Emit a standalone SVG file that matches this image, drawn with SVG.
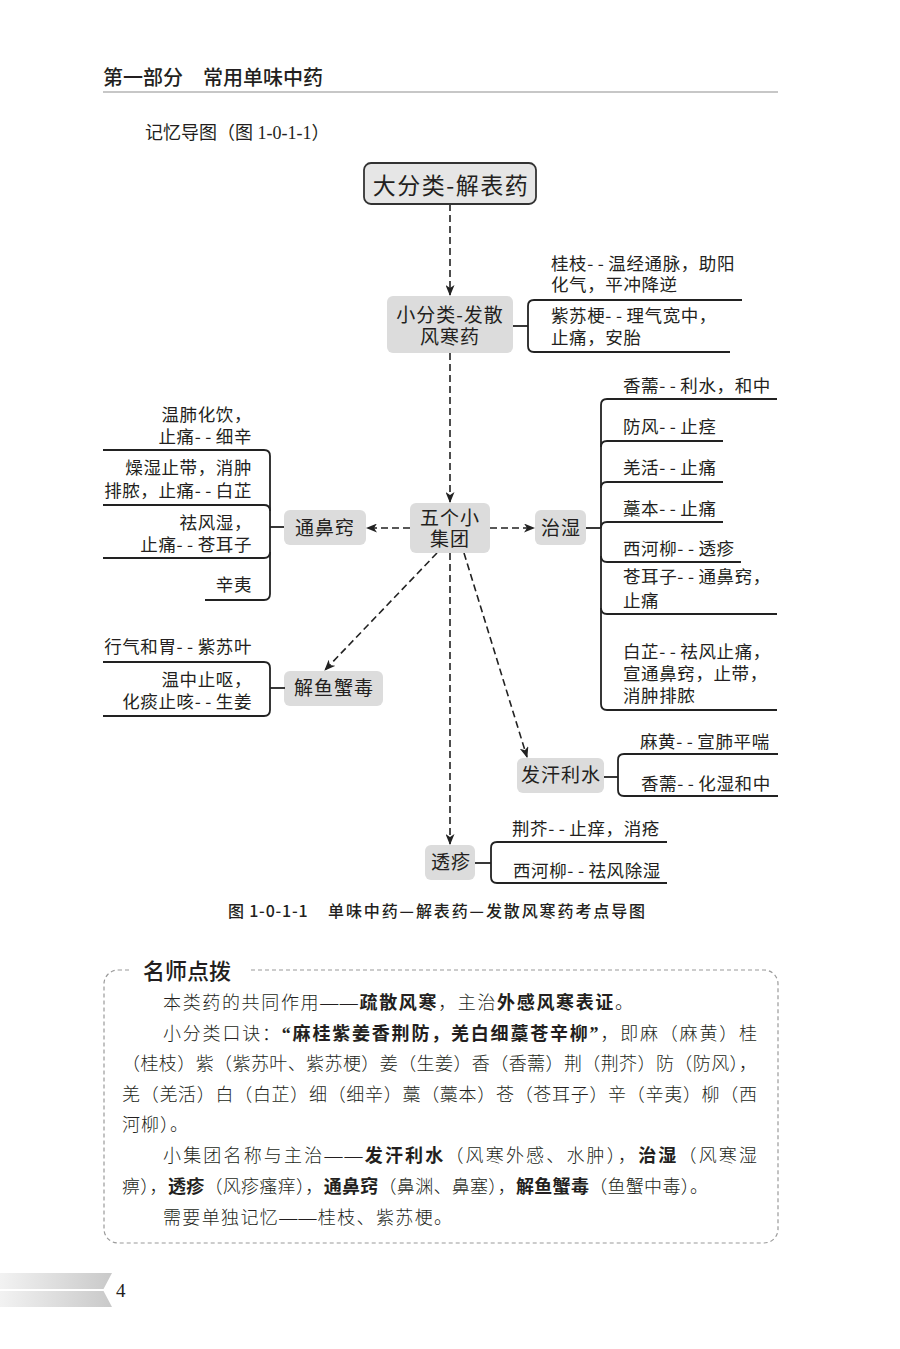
<svg xmlns="http://www.w3.org/2000/svg" width="900" height="1349" viewBox="0 0 900 1349">
<defs>
<marker id="ah" markerUnits="userSpaceOnUse" markerWidth="11" markerHeight="9" viewBox="0 0 11 9" refX="10" refY="4.5" orient="auto">
<path d="M0,0 L11,4.5 L0,9 L3,4.5 z" fill="#222"/>
</marker>
<linearGradient id="bn" x1="0" y1="0" x2="1" y2="0">
<stop offset="0" stop-color="#f2f2f2"/>
<stop offset="1" stop-color="#c9c9c9"/>
</linearGradient>
<style>
text{font-family:"Noto Sans CJK SC","Noto Sans",sans-serif;fill:#231f20}
.dash{stroke:#222;stroke-width:1.6;stroke-dasharray:7 4;fill:none;marker-end:url(#ah)}
.br{stroke:#222;stroke-width:1.8;fill:none}
.node{fill:#dcdcdc}
.lbl{font-size:19px;letter-spacing:1px;text-anchor:middle}
.leaf{font-size:17.5px;letter-spacing:0.6px}
.end{text-anchor:end}
.d{letter-spacing:4.5px}
.body{font-family:"Liberation Serif","Noto Sans CJK SC",serif;font-size:18px;font-weight:300}
.b{font-weight:bold}
</style>
</defs>
<rect width="900" height="1349" fill="#ffffff"/>

<g id="header">
<text x="103" y="85" font-size="20" font-weight="500">第一部分　常用单味中药</text>
<line x1="103" y1="92" x2="778" y2="92" stroke="#b5b5b5" stroke-width="1.5"/>
<text x="145" y="139" font-size="18" style="font-family:'Liberation Serif','Noto Sans CJK SC',serif">记忆导图（图 1-0-1-1）</text>
</g>

<g id="connectors">
<path class="dash" d="M450,204 V295"/>
<path class="dash" d="M450,353 V502"/>
<path class="dash" d="M410,528 H367"/>
<path class="dash" d="M490,528 H534"/>
<path class="dash" d="M437,553 L325,670"/>
<path class="dash" d="M464,553 L527,757"/>
<path class="dash" d="M450,553 V844"/>
</g>

<g id="n-root">
<rect x="364" y="163" width="172" height="41" rx="7" fill="#e6e6e6" stroke="#333" stroke-width="1.8"/>
<text x="451" y="194" font-size="23" letter-spacing="1.5" text-anchor="middle">大分类-解表药</text>
</g>

<g id="n-sub">
<rect class="node" x="387" y="296" width="126" height="57" rx="6"/>
<text class="lbl"><tspan x="450" y="322">小分类-发散</tspan><tspan x="450" y="344">风寒药</tspan></text>
<path class="br" d="M513,326 H528"/>
<path class="br" d="M742,300 H534 Q528,300 528,306 V346 Q528,352 534,352 H730"/>
<text class="leaf"><tspan x="551" y="270">桂枝<tspan class="d">--</tspan>温经通脉，助阳</tspan><tspan x="551" y="291">化气，平冲降逆</tspan><tspan x="551" y="322">紫苏梗<tspan class="d">--</tspan>理气宽中，</tspan><tspan x="551" y="344">止痛，安胎</tspan></text>
</g>

<g id="n-hub">
<rect class="node" x="410" y="503" width="80" height="50" rx="6"/>
<text class="lbl"><tspan x="450" y="525">五个小</tspan><tspan x="450" y="546">集团</tspan></text>
</g>

<g id="n-tbq">
<rect class="node" x="284" y="510" width="82" height="35" rx="6"/>
<text class="lbl" x="325" y="535">通鼻窍</text>
<path class="br" d="M284,527 H270"/>
<path class="br" d="M103,450 H264 Q270,450 270,456 V594 Q270,600 264,600 H205"/>
<path class="br" d="M103,505 H264 Q270,505 270,511"/>
<path class="br" d="M103,558 H264 Q270,558 270,552"/>
<text class="leaf end"><tspan x="252" y="421">温肺化饮，</tspan><tspan x="252" y="443">止痛<tspan class="d">--</tspan>细辛</tspan><tspan x="252" y="474">燥湿止带，消肿</tspan><tspan x="252" y="497">排脓，止痛<tspan class="d">--</tspan>白芷</tspan><tspan x="252" y="529">祛风湿，</tspan><tspan x="252" y="551">止痛<tspan class="d">--</tspan>苍耳子</tspan><tspan x="252" y="591">辛夷</tspan></text>
</g>

<g id="n-zs">
<rect class="node" x="535" y="510" width="51" height="35" rx="6"/>
<text class="lbl" x="561" y="535">治湿</text>
<path class="br" d="M586,528 H601"/>
<path class="br" d="M777,399 H607 Q601,399 601,405 V704 Q601,710 607,710 H777"/>
<path class="br" d="M723,441 H607 Q601,441 601,447"/>
<path class="br" d="M723,482 H607 Q601,482 601,488"/>
<path class="br" d="M723,522 H607 Q601,522 601,528"/>
<path class="br" d="M741,562 H607 Q601,562 601,556"/>
<path class="br" d="M777,614 H607 Q601,614 601,608"/>
<text class="leaf"><tspan x="623" y="392">香薷<tspan class="d">--</tspan>利水，和中</tspan><tspan x="623" y="433">防风<tspan class="d">--</tspan>止痉</tspan><tspan x="623" y="474">羌活<tspan class="d">--</tspan>止痛</tspan><tspan x="623" y="515">藁本<tspan class="d">--</tspan>止痛</tspan><tspan x="623" y="555">西河柳<tspan class="d">--</tspan>透疹</tspan><tspan x="623" y="583">苍耳子<tspan class="d">--</tspan>通鼻窍，</tspan><tspan x="623" y="607">止痛</tspan><tspan x="623" y="658">白芷<tspan class="d">--</tspan>祛风止痛，</tspan><tspan x="623" y="680">宣通鼻窍，止带，</tspan><tspan x="623" y="702">消肿排脓</tspan></text>
</g>

<g id="n-jyxd">
<rect class="node" x="284" y="671" width="99" height="35" rx="6"/>
<text class="lbl" x="334" y="695">解鱼蟹毒</text>
<path class="br" d="M285,688 H270"/>
<path class="br" d="M103,662 H264 Q270,662 270,668 V710 Q270,716 264,716 H103"/>
<text class="leaf end"><tspan x="252" y="653">行气和胃<tspan class="d">--</tspan>紫苏叶</tspan><tspan x="252" y="686">温中止呕，</tspan><tspan x="252" y="708">化痰止咳<tspan class="d">--</tspan>生姜</tspan></text>
</g>

<g id="n-fhls">
<rect class="node" x="517" y="758" width="87" height="35" rx="6"/>
<text class="lbl" x="561" y="782">发汗利水</text>
<path class="br" d="M604,777 H618"/>
<path class="br" d="M778,754 H624 Q618,754 618,760 V790 Q618,796 624,796 H778"/>
<text class="leaf"><tspan x="640" y="748">麻黄<tspan class="d">--</tspan>宣肺平喘</tspan><tspan x="641" y="790">香薷<tspan class="d">--</tspan>化湿和中</tspan></text>
</g>

<g id="n-tz">
<rect class="node" x="425" y="845" width="50" height="35" rx="6"/>
<text class="lbl" x="451" y="869">透疹</text>
<path class="br" d="M475,863 H491"/>
<path class="br" d="M667,842 H497 Q491,842 491,848 V877 Q491,883 497,883 H667"/>
<text class="leaf"><tspan x="512" y="835">荆芥<tspan class="d">--</tspan>止痒，消疮</tspan><tspan x="513" y="877">西河柳<tspan class="d">--</tspan>祛风除湿</tspan></text>
</g>

<g id="caption">
<text y="917" font-size="16" font-weight="500"><tspan x="228" letter-spacing="0.8">图 1-0-1-1</tspan><tspan x="328" letter-spacing="1.9">单味中药—解表药—发散风寒药考点导图</tspan></text>
</g>

<g id="tips">
<rect x="104" y="970" width="674" height="273" rx="14" fill="none" stroke="#9a9a9a" stroke-width="1.2" stroke-dasharray="4 3"/>
<rect x="131" y="958" width="118" height="24" fill="#ffffff"/>
<text x="143" y="979" font-size="22" font-weight="500">名师点拨</text>
<text class="body" x="163" y="1009" textLength="470">本类药的共同作用——<tspan class="b">疏散风寒</tspan>，主治<tspan class="b">外感风寒表证</tspan>。</text>
<text class="body" x="163" y="1040" textLength="594">小分类口诀：<tspan class="b">“麻桂紫姜香荆防，羌白细藁苍辛柳”</tspan>，即麻（麻黄）桂</text>
<text class="body" x="122" y="1070" textLength="635">（桂枝）紫（紫苏叶、紫苏梗）姜（生姜）香（香薷）荆（荆芥）防（防风），</text>
<text class="body" x="122" y="1101" textLength="635">羌（羌活）白（白芷）细（细辛）藁（藁本）苍（苍耳子）辛（辛夷）柳（西</text>
<text class="body" x="122" y="1131" letter-spacing="1">河柳）。</text>
<text class="body" x="163" y="1162" textLength="594">小集团名称与主治——<tspan class="b">发汗利水</tspan>（风寒外感、水肿），<tspan class="b">治湿</tspan>（风寒湿</text>
<text class="body" x="122" y="1193" textLength="586">痹），<tspan class="b">透疹</tspan>（风疹瘙痒），<tspan class="b">通鼻窍</tspan>（鼻渊、鼻塞），<tspan class="b">解鱼蟹毒</tspan>（鱼蟹中毒）。</text>
<text class="body" x="163" y="1224" textLength="289">需要单独记忆——桂枝、紫苏梗。</text>
</g>

<g id="footer">
<polygon points="0,1273 112,1273 103,1290 112,1307 0,1307" fill="url(#bn)"/>
<line x1="0" y1="1290" x2="106" y2="1290" stroke="#ffffff" stroke-width="2"/>
<text x="116" y="1297" font-size="19" style="font-family:'Liberation Serif',serif">4</text>
</g>
</svg>
